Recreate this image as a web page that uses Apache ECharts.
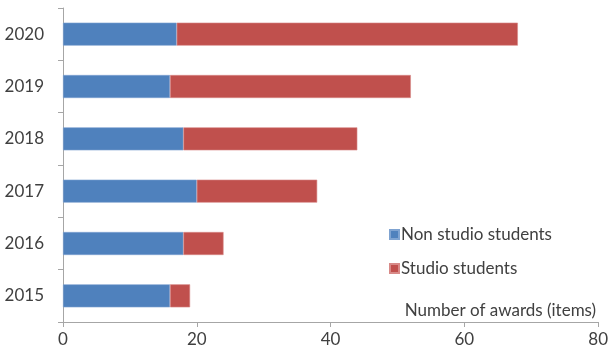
<!DOCTYPE html>
<html><head><meta charset="utf-8">
<script src="https://cdn.jsdelivr.net/npm/echarts@6/dist/echarts.min.js"></script>
<style>html,body{margin:0;padding:0;background:#fff}#c{width:611px;height:361px}</style>
</head><body><div id="c"></div>
<script>
const years = ['2015','2016','2017','2018','2019','2020'];
const nonStudio = [16, 18, 20, 18, 16, 17];
const studio = [3, 6, 18, 26, 36, 51];
const xTicks = [0, 20, 40, 60, 80];

const chart = echarts.init(document.getElementById('c'));
const font = 'Lato, "Open Sans", sans-serif';
const fs = 17;
chart.setOption({
  animation: false,
  textStyle: {fontFamily: font},
  grid: {left: 63, right: 11, top: 8, bottom: 39},
  legend: {
    orient: 'vertical', left: 384, top: 221, itemGap: 17,
    itemWidth: 9, itemHeight: 9, icon: 'rect',
    textStyle: {fontSize: fs, color: '#404040', fontFamily: font, padding: [0,0,0,-3]},
    data: ['Non studio students', 'Studio students']
  },
  xAxis: {
    type: 'value', min: xTicks[0], max: xTicks[xTicks.length-1], interval: 20,
    name: 'Number of awards (items)', nameLocation: 'end',
    nameGap: 0,
    nameTextStyle: {fontSize: fs, color: '#404040', align: 'right', verticalAlign: 'bottom', padding: [0, 2, 3, 0]},
    axisLine: {show: true, lineStyle: {color: '#a6a6a6'}},
    axisTick: {show: true, length: 5, lineStyle: {color: '#a6a6a6'}},
    splitLine: {show: false},
    axisLabel: {fontSize: fs, color: '#404040', margin: 9}
  },
  yAxis: {
    type: 'category', data: years,
    axisLine: {show: true, lineStyle: {color: '#a6a6a6'}},
    axisTick: {show: true, length: 5, lineStyle: {color: '#a6a6a6'}},
    axisLabel: {fontSize: fs, color: '#404040', margin: 19}
  },
  series: [
    {name: 'Non studio students', type: 'bar', stack: 't', data: nonStudio, barWidth: 23,
     itemStyle: {color: '#4F81BD', borderColor: '#7fa3d1', borderWidth: 0.6}},
    {name: 'Studio students', type: 'bar', stack: 't', data: studio, barWidth: 23,
     itemStyle: {color: '#C0504D', borderColor: '#d88a88', borderWidth: 0.6}}
  ]
});
</script></body></html>
